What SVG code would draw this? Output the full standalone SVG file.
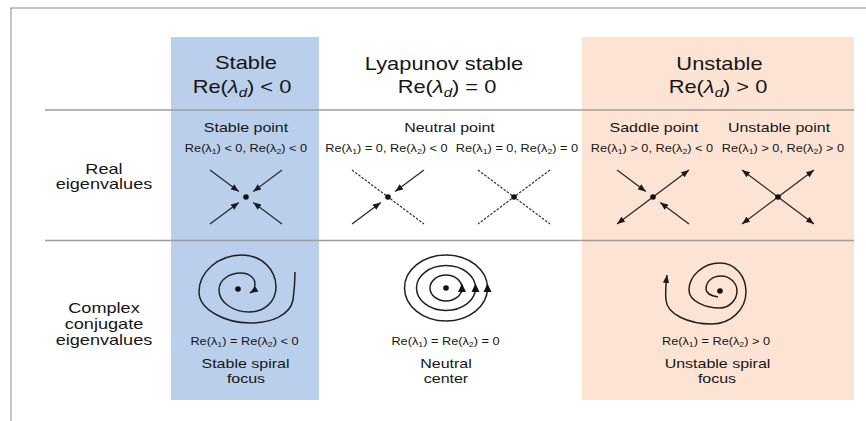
<svg xmlns="http://www.w3.org/2000/svg" width="866" height="421" viewBox="0 0 866 421">
<style>
  text { font-family: "Liberation Sans", Arial, sans-serif; fill: #161616; text-anchor: middle; }
  .title { font-size: 17.5px; }
  .row { font-size: 14.5px; }
  .sub { font-size: 12.8px; }
  .re { font-size: 10.2px; }
  .it { font-style: italic; }
  .ln { stroke: #2a2a2a; stroke-width: 1.3; fill: none; }
  .arr { stroke: #2a2a2a; stroke-width: 1.3; fill: none; marker-end: url(#ah); }
  .dash { stroke: #333; stroke-width: 1.2; stroke-dasharray: 2.5 1.5; fill: none; }
  .sp { stroke: #222; stroke-width: 1.5; fill: none; }
  .grid { stroke: #9d9d9d; stroke-width: 1.5; }
  .frame { stroke: #8a8a8a; stroke-width: 1; }
</style>
<defs>
  <marker id="ah" viewBox="0 0 10 8" refX="10" refY="4" markerWidth="8" markerHeight="6.4" markerUnits="userSpaceOnUse" orient="auto">
    <path d="M0,0 L10,4 L0,8 z" fill="#1a1a1a"/>
  </marker>
</defs>
<rect x="0" y="0" width="866" height="421" fill="#ffffff"/>
<g id="frame">
  <line class="frame" x1="10" y1="8" x2="866" y2="8"/>
  <line class="frame" x1="11" y1="8" x2="11" y2="421"/>
</g>
<g id="columns">
  <rect x="171" y="37" width="148" height="363" fill="#b9cfeb"/>
  <rect x="582" y="37" width="272" height="363" fill="#fde3d4"/>
</g>
<g id="rows">
  <line class="grid" x1="45" y1="110" x2="854" y2="110"/>
  <line class="grid" x1="45" y1="240.5" x2="854" y2="240.5"/>
</g>

<g id="labels" transform="scale(1.25,1)">
  <g id="head-stable">
    <text class="title" x="196.8" y="69">Stable</text>
    <text class="title" x="193.6" y="93">Re(<tspan class="it">λ</tspan><tspan class="it" font-size="12" dy="4">d</tspan><tspan dy="-4">) &lt; 0</tspan></text>
  </g>
  <g id="head-lyapunov">
    <text class="title" x="355.2" y="70">Lyapunov stable</text>
    <text class="title" x="357.6" y="93">Re(<tspan class="it">λ</tspan><tspan class="it" font-size="12" dy="4">d</tspan><tspan dy="-4">) = 0</tspan></text>
  </g>
  <g id="head-unstable">
    <text class="title" x="575.6" y="70">Unstable</text>
    <text class="title" x="574.4" y="93">Re(<tspan class="it">λ</tspan><tspan class="it" font-size="12" dy="4">d</tspan><tspan dy="-4">) &gt; 0</tspan></text>
  </g>
  <g id="row-real">
    <text class="row" x="83.2" y="174">Real</text>
    <text class="row" x="83.2" y="189">eigenvalues</text>
  </g>
  <g id="row-complex">
    <text class="row" x="83.2" y="313">Complex</text>
    <text class="row" x="83.2" y="329">conjugate</text>
    <text class="row" x="83.2" y="345">eigenvalues</text>
  </g>
  <g id="txt-stable-point">
    <text class="sub" x="196.8" y="132">Stable point</text>
    <text class="re" x="196.8" y="152">Re(λ<tspan font-size="7" dy="2.5">1</tspan><tspan dy="-2.5">) &lt; 0, Re(λ</tspan><tspan font-size="7" dy="2.5">2</tspan><tspan dy="-2.5">) &lt; 0</tspan></text>
  </g>
  <g id="txt-neutral-point">
    <text class="sub" x="359.6" y="132">Neutral point</text>
    <text class="re" x="309.2" y="152">Re(λ<tspan font-size="7" dy="2.5">1</tspan><tspan dy="-2.5">) = 0, Re(λ</tspan><tspan font-size="7" dy="2.5">2</tspan><tspan dy="-2.5">) &lt; 0</tspan></text>
    <text class="re" x="413.6" y="152">Re(λ<tspan font-size="7" dy="2.5">1</tspan><tspan dy="-2.5">) = 0, Re(λ</tspan><tspan font-size="7" dy="2.5">2</tspan><tspan dy="-2.5">) = 0</tspan></text>
  </g>
  <g id="txt-saddle">
    <text class="sub" x="523.2" y="132">Saddle point</text>
    <text class="re" x="521.6" y="152">Re(λ<tspan font-size="7" dy="2.5">1</tspan><tspan dy="-2.5">) &gt; 0, Re(λ</tspan><tspan font-size="7" dy="2.5">2</tspan><tspan dy="-2.5">) &lt; 0</tspan></text>
  </g>
  <g id="txt-unstable-point">
    <text class="sub" x="623.2" y="132">Unstable point</text>
    <text class="re" x="626.4" y="152">Re(λ<tspan font-size="7" dy="2.5">1</tspan><tspan dy="-2.5">) &gt; 0, Re(λ</tspan><tspan font-size="7" dy="2.5">2</tspan><tspan dy="-2.5">) &gt; 0</tspan></text>
  </g>
  <g id="txt-stable-spiral">
    <text class="re" x="195.6" y="345">Re(λ<tspan font-size="7" dy="2.5">1</tspan><tspan dy="-2.5">) = Re(λ</tspan><tspan font-size="7" dy="2.5">2</tspan><tspan dy="-2.5">) &lt; 0</tspan></text>
    <text class="sub" x="196.4" y="368">Stable spiral</text>
    <text class="sub" x="196.8" y="383">focus</text>
  </g>
  <g id="txt-neutral-center">
    <text class="re" x="356.4" y="345">Re(λ<tspan font-size="7" dy="2.5">1</tspan><tspan dy="-2.5">) = Re(λ</tspan><tspan font-size="7" dy="2.5">2</tspan><tspan dy="-2.5">) = 0</tspan></text>
    <text class="sub" x="356.8" y="368">Neutral</text>
    <text class="sub" x="356.8" y="383">center</text>
  </g>
  <g id="txt-unstable-spiral">
    <text class="re" x="572.8" y="345">Re(λ<tspan font-size="7" dy="2.5">1</tspan><tspan dy="-2.5">) = Re(λ</tspan><tspan font-size="7" dy="2.5">2</tspan><tspan dy="-2.5">) &gt; 0</tspan></text>
    <text class="sub" x="574" y="368">Unstable spiral</text>
    <text class="sub" x="573.6" y="383">focus</text>
  </g>
</g>

<g id="connectors">
  <g id="stable-point">
    <line class="arr" x1="210" y1="170" x2="238.8" y2="191.6"/>
    <line class="arr" x1="282" y1="170" x2="253.2" y2="191.6"/>
    <line class="arr" x1="210" y1="224" x2="238.8" y2="202.4"/>
    <line class="arr" x1="282" y1="224" x2="253.2" y2="202.4"/>
    <circle cx="246" cy="197" r="2.8" fill="#111"/>
  </g>
  <g id="neutral-point-1">
    <line class="dash" x1="352" y1="170" x2="424" y2="224"/>
    <line class="arr" x1="424" y1="170" x2="395.2" y2="191.6"/>
    <line class="arr" x1="352" y1="224" x2="380.8" y2="202.4"/>
    <circle cx="388" cy="197" r="2.8" fill="#111"/>
  </g>
  <g id="neutral-point-2">
    <line class="dash" x1="478" y1="170" x2="550" y2="224"/>
    <line class="dash" x1="550" y1="170" x2="478" y2="224"/>
    <circle cx="514" cy="197" r="2.8" fill="#111"/>
  </g>
  <g id="saddle-point">
    <line class="arr" x1="617" y1="170" x2="645.8" y2="191.6"/>
    <line class="arr" x1="689" y1="224" x2="660.2" y2="202.4"/>
    <line class="arr" x1="653" y1="197" x2="689" y2="170"/>
    <line class="arr" x1="653" y1="197" x2="617" y2="224"/>
    <circle cx="653" cy="197" r="2.8" fill="#111"/>
  </g>
  <g id="unstable-point">
    <line class="arr" x1="778" y1="197" x2="742" y2="170"/>
    <line class="arr" x1="778" y1="197" x2="814" y2="170"/>
    <line class="arr" x1="778" y1="197" x2="742" y2="224"/>
    <line class="arr" x1="778" y1="197" x2="814" y2="224"/>
    <circle cx="778" cy="197" r="2.8" fill="#111"/>
  </g>
  <g id="stable-spiral">
    <path class="sp" marker-end="url(#ah)" d="M295,272 C295,285 294,292 293,300 C290,315 272,323 250,323 C226,323 199,310 199,292 C199,272 218,255 242,255 C262,255 276,270 276,287 C276,302 264,312 249,312 C233,312 219,302 219,290 C219,280 229,273 241,273 C249,273 255,278 255,284 Q255,290 250,293"/>
    <circle cx="238" cy="289" r="2.8" fill="#111"/>
  </g>
  <g id="neutral-center">
    <ellipse class="sp" cx="446" cy="288" rx="41.5" ry="33"/>
    <ellipse class="sp" cx="446" cy="288" rx="29.5" ry="22.5"/>
    <ellipse class="sp" cx="446" cy="288" rx="16" ry="13"/>
    <path d="M462,283.5 L466,292 L458,292 z" fill="#111"/>
    <path d="M475.5,283.5 L479.5,292 L471.5,292 z" fill="#111"/>
    <path d="M487.5,283.5 L491.5,292 L483.5,292 z" fill="#111"/>
    <circle cx="446" cy="288" r="2.8" fill="#111"/>
  </g>
  <g id="unstable-spiral">
    <path class="sp" marker-end="url(#ah)" d="M718,297 C712,296 706,294 706,289 C706,281 713,276 721,276 C730,276 737,283 737,291 C737,300 729,308 720,308 C705,308 689,301 689,290 C689,276 703,263 720,263 C735,263 746,276 746,292 C746,309 731,324 712,324 C688,324 667,314 666,300 C665,290 666,283 667,275"/>
    <circle cx="720" cy="291" r="2.8" fill="#111"/>
  </g>
</g>
</svg>
